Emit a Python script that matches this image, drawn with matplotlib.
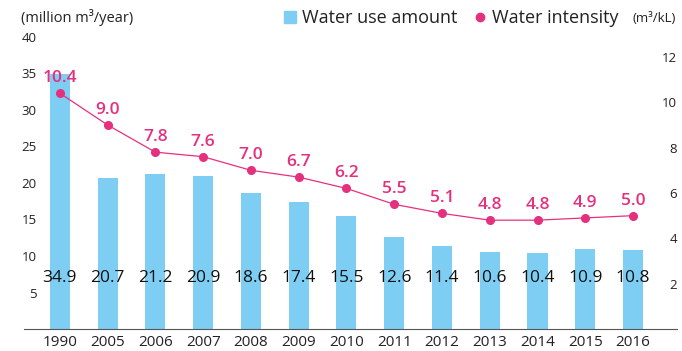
import matplotlib.pyplot as plt
from matplotlib.lines import Line2D

plt.rcParams['font.family'] = ['Open Sans', 'DejaVu Sans']

# Water use (million m3/year) and water intensity (m3/kL) by year
years = ['1990', '2005', '2006', '2007', '2008', '2009', '2010',
         '2011', '2012', '2013', '2014', '2015', '2016']
water_use = [34.9, 20.7, 21.2, 20.9, 18.6, 17.4, 15.5,
             12.6, 11.4, 10.6, 10.4, 10.9, 10.8]
intensity = [10.4, 9.0, 7.8, 7.6, 7.0, 6.7, 6.2,
             5.5, 5.1, 4.8, 4.8, 4.9, 5.0]
left_ticks = [5, 10, 15, 20, 25, 30, 35, 40]
right_ticks = [2, 4, 6, 8, 10, 12]

BLUE = '#7ecef4'
PINK = '#e5307e'
TEXT = '#222222'

fig = plt.figure(figsize=(6.82, 3.51), dpi=100)
ax = fig.add_axes([24 / 682, 22 / 351, 653 / 682, 292 / 351])
ax2 = ax.twinx()

x = list(range(len(years)))
ax.bar(x, water_use, width=0.42, color=BLUE, zorder=1)
for xi, v in zip(x, water_use):
    ax.text(xi, 7, f'{v:.1f}', ha='center', va='center',
            fontsize=12.5, color='#111111', zorder=3)

ax2.plot(x, intensity, color=PINK, lw=0.9, marker='o', ms=5.5, zorder=2)
for xi, v in zip(x, intensity):
    ax2.annotate(f'{v:.1f}', (xi, v), xytext=(0, 5), textcoords='offset points',
                 ha='center', va='bottom', fontsize=12.5, color=PINK,
                 fontweight='semibold')

ax.set_xlim(-0.75, 12.92)
ax.set_ylim(0, 40)
ax2.set_ylim(0, 12.88)

ax.set_xticks(x)
ax.set_xticklabels(years)
ax.set_yticks(left_ticks)
ax2.set_yticks(right_ticks)

for a in (ax, ax2):
    for s in ('left', 'right', 'top'):
        a.spines[s].set_visible(False)
ax.spines['bottom'].set_color('#555555')
ax2.spines['bottom'].set_visible(False)

ax.tick_params(axis='x', length=0, pad=4, labelsize=11, labelcolor=TEXT)
ax.tick_params(axis='y', length=0, pad=-9, labelsize=9.5, labelcolor=TEXT)
ax2.tick_params(axis='y', length=0, pad=0, labelsize=9.5, labelcolor=TEXT)
for lbl in ax2.get_yticklabels():
    lbl.set_horizontalalignment('right')

fig.text(21 / 682, 1 - 17 / 351, '(million m³/year)', fontsize=10.5,
         color=TEXT, va='center', ha='left')
fig.text(676 / 682, 1 - 19 / 351, '(m³/kL)', fontsize=9.5,
         color=TEXT, va='center', ha='right')

handles = [
    Line2D([], [], ls='none', marker='s', ms=9, color=BLUE),
    Line2D([], [], ls='none', marker='o', ms=6, color=PINK),
]
fig.legend(handles, ['Water use amount', 'Water intensity'], ncol=2,
           loc='center left', bbox_to_anchor=(284 / 682, 1 - 18 / 351),
           frameon=False, fontsize=13, handlelength=0.7, handletextpad=0.3,
           columnspacing=0.9, borderaxespad=0, borderpad=0,
           labelcolor=TEXT)

fig.savefig('out.png', dpi=100)
